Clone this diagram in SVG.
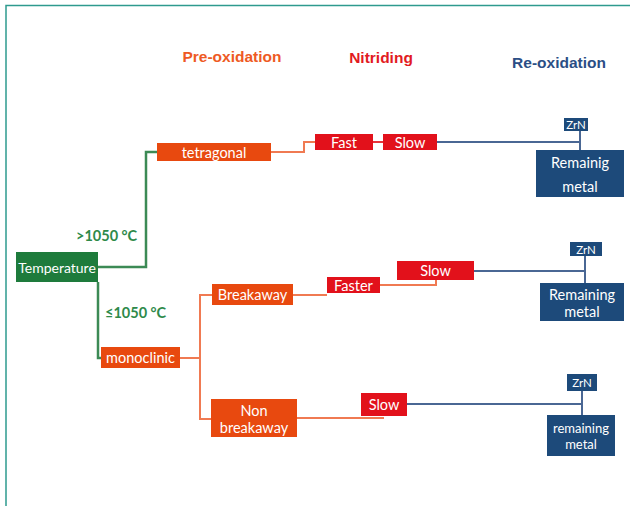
<svg xmlns="http://www.w3.org/2000/svg" width="630" height="506" viewBox="0 0 630 506">
<style>
.hdr{font-family:"Liberation Sans",Arial,sans-serif;font-weight:bold;font-size:15.5px;text-anchor:middle}
.bx{font-family:Lato,"Open Sans",sans-serif;font-size:14.5px;fill:#fff;text-anchor:middle;dominant-baseline:central}
.sm{font-size:11.5px}
.md{font-size:13px}
.og{fill:#E8490F}
.rd{fill:#E2111B}
.nv{fill:#1D4A7A}
.gn{fill:#1E7B3C}
.lbl{font-family:Lato,"Open Sans",sans-serif;font-weight:bold;font-size:14.5px;fill:#2E8A4A;dominant-baseline:central}
.lg{fill:none;stroke:#3C8A55;stroke-width:2.5}
.lo{fill:none;stroke:#F07A52;stroke-width:2}
.lr{fill:none;stroke:#E8333A;stroke-width:2}
.lb{fill:none;stroke:#4A6794;stroke-width:2}
</style>
<rect width="630" height="506" fill="#fff"/>
<path d="M6,506 V5.5 H630" fill="none" stroke="#2E9A8E" stroke-width="1.5"/>
<g id="headers">
<text class="hdr" x="232" y="62" fill="#EE5A24">Pre-oxidation</text>
<text class="hdr" x="381" y="63" fill="#E21A22">Nitriding</text>
<text class="hdr" x="559" y="68" fill="#2B4E85">Re-oxidation</text>
</g>
<g id="connectors">
<path class="lg" d="M98,267 H146 V152 H157"/>
<path class="lg" d="M98,282 V358 H101"/>
<path class="lo" d="M271,152 H304 V142 H315"/>
<path class="lr" d="M373,142 H383"/>
<path class="lo" d="M180,358 H200"/>
<path class="lo" d="M212,295 H200 V419 H211"/>
<path class="lo" d="M293,295 H327"/>
<path class="lo" d="M380,285 H436 V280"/>
<path class="lo" d="M297,418 H384"/>
<path class="lb" d="M437,142 H580 M580,131 V150"/>
<path class="lb" d="M474,271 H585 M585,256 V283"/>
<path class="lb" d="M407,404 H582 M582,391 V415"/>
<text class="lbl" x="76" y="235">&gt;1050 °C</text>
<text class="lbl" x="105" y="312">≤1050 °C</text>
</g>
<g id="temperature">
<rect class="gn" x="16" y="252" width="82" height="30"/>
<text class="bx" x="57" y="267" fill="#E8EFE8" style="font-size:14px">Temperature</text>
</g>
<g id="tetragonal">
<rect class="og" x="157" y="143" width="114" height="18"/>
<text class="bx" x="214" y="152">tetragonal</text>
</g>
<g id="monoclinic">
<rect class="og" x="101" y="347" width="79" height="21"/>
<text class="bx" x="140.5" y="357.5">monoclinic</text>
</g>
<g id="breakaway">
<rect class="og" x="212" y="284" width="81" height="21"/>
<text class="bx" x="252.5" y="294.5">Breakaway</text>
</g>
<g id="nonbreakaway">
<rect class="og" x="211" y="399" width="86" height="38"/>
<text class="bx" x="254" y="410">Non</text>
<text class="bx" x="254" y="427">breakaway</text>
</g>
<g id="fast">
<rect class="rd" x="315" y="134" width="58" height="16"/>
<text class="bx" x="344" y="142">Fast</text>
</g>
<g id="slow1">
<rect class="rd" x="383" y="134" width="54" height="16"/>
<text class="bx" x="410" y="142">Slow</text>
</g>
<g id="faster">
<rect class="rd" x="327" y="277" width="53" height="16"/>
<text class="bx" x="353.5" y="285">Faster</text>
</g>
<g id="slow2">
<rect class="rd" x="397" y="261" width="77" height="19"/>
<text class="bx" x="435.5" y="270.5">Slow</text>
</g>
<g id="slow3">
<rect class="rd" x="361" y="393" width="46" height="23"/>
<text class="bx" x="384" y="404.5">Slow</text>
</g>
<g id="zrn1">
<rect class="nv" x="564" y="118" width="24" height="13"/>
<text class="bx sm" x="576" y="124.5">ZrN</text>
</g>
<g id="metal1">
<rect class="nv" x="536" y="150" width="88" height="47"/>
<text class="bx" x="580" y="162">Remainig</text>
<text class="bx" x="580" y="186">metal</text>
</g>
<g id="zrn2">
<rect class="nv" x="570" y="242" width="32" height="14"/>
<text class="bx sm" x="586" y="249">ZrN</text>
</g>
<g id="metal2">
<rect class="nv" x="540" y="283" width="84" height="38"/>
<text class="bx" x="582" y="294">Remaining</text>
<text class="bx" x="582" y="311">metal</text>
</g>
<g id="zrn3">
<rect class="nv" x="567" y="374" width="30" height="17"/>
<text class="bx sm" x="582" y="382.5">ZrN</text>
</g>
<g id="metal3">
<rect class="nv" x="547" y="415" width="68" height="41"/>
<text class="bx md" x="581" y="427.5">remaining</text>
<text class="bx md" x="581" y="443.5">metal</text>
</g>
</svg>
